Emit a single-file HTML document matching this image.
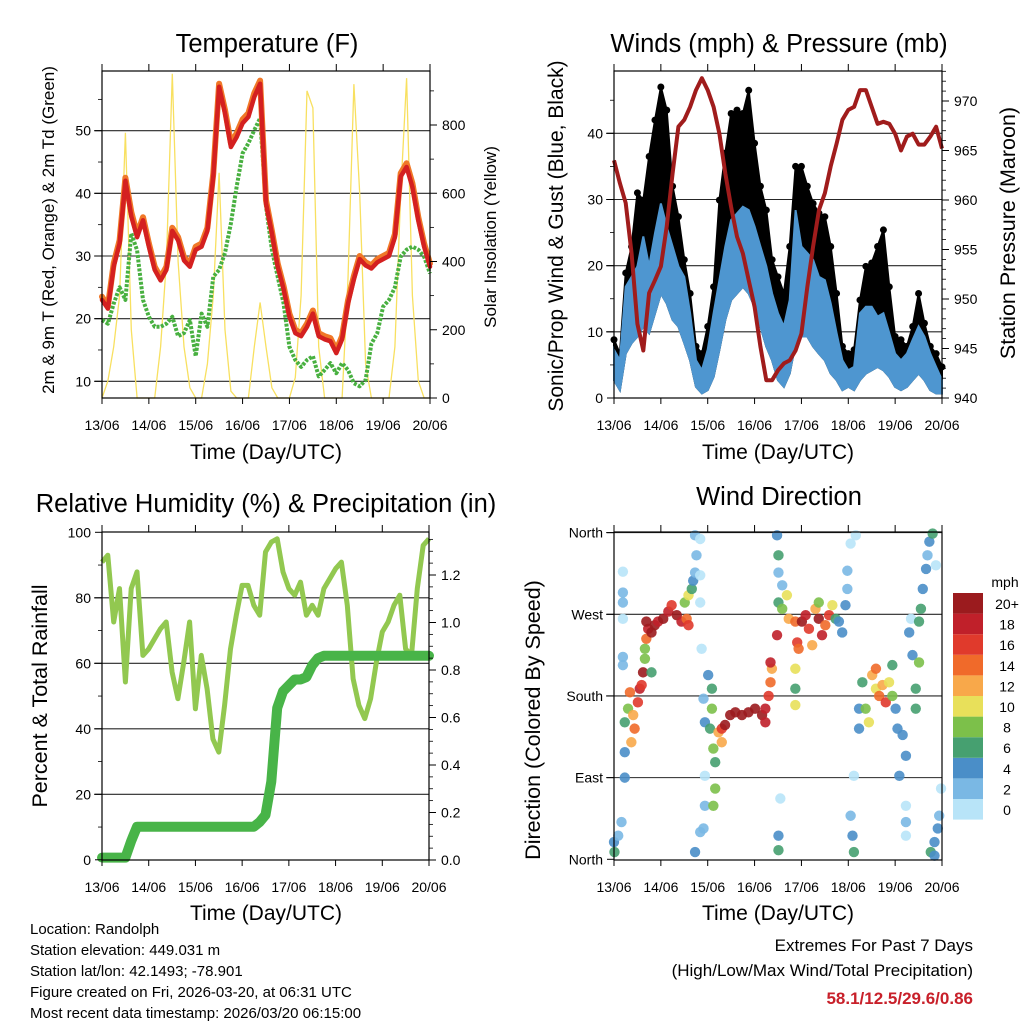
<!DOCTYPE html>
<html><head><meta charset="utf-8"><style>
html,body{margin:0;padding:0;background:#fff;}
svg{display:block;font-family:"Liberation Sans",Arial,sans-serif;}
</style></head><body>
<svg id="chart" width="1024" height="1024" viewBox="0 0 1024 1024">
<g font-size="25.5" text-anchor="middle" fill="#000">
<text x="267" y="52">Temperature (F)</text>
<text x="779" y="52">Winds (mph) &amp; Pressure (mb)</text>
<text x="266" y="512">Relative Humidity (%) &amp; Precipitation (in)</text>
<text x="779" y="505">Wind Direction</text>
</g>
<g font-size="21" text-anchor="middle" fill="#000">
<text x="266" y="459">Time (Day/UTC)</text>
<text x="778" y="459">Time (Day/UTC)</text>
<text x="266" y="920">Time (Day/UTC)</text>
<text x="778" y="920">Time (Day/UTC)</text>
</g>
<text transform="translate(54,230) rotate(-90)" font-size="17" text-anchor="middle">2m &amp; 9m T (Red, Orange) &amp; 2m Td (Green)</text>
<text transform="translate(496,237) rotate(-90)" font-size="17" text-anchor="middle">Solar Insolation (Yellow)</text>
<text transform="translate(563,236) rotate(-90)" font-size="21" text-anchor="middle">Sonic/Prop Wind &amp; Gust (Blue, Black)</text>
<text transform="translate(1015,233) rotate(-90)" font-size="21.5" text-anchor="middle">Station Pressure (Maroon)</text>
<text transform="translate(47,696) rotate(-90)" font-size="21.5" text-anchor="middle">Percent &amp; Total Rainfall</text>
<text transform="translate(540,720) rotate(-90)" font-size="21.5" text-anchor="middle">Direction (Colored By Speed)</text>
<g font-size="15" fill="#000">
<text x="30" y="934">Location: Randolph</text>
<text x="30" y="955">Station elevation: 449.031 m</text>
<text x="30" y="976">Station lat/lon: 42.1493; -78.901</text>
<text x="30" y="997">Figure created on Fri, 2026-03-20, at 06:31 UTC</text>
<text x="30" y="1018">Most recent data timestamp: 2026/03/20 06:15:00</text>
</g>
<g font-size="17" text-anchor="end">
<text x="973" y="951">Extremes For Past 7 Days</text>
<text x="973" y="976">(High/Low/Max Wind/Total Precipitation)</text>
<text x="973" y="1004" font-weight="bold" fill="#c8202a">58.1/12.5/29.6/0.86</text>
</g>
<text x="1005" y="587" font-size="14" text-anchor="middle">mph</text>
</svg>
<script>
const dayLabels=['13/06','14/06','15/06','16/06','17/06','18/06','19/06','20/06'];
const hours=[0,3,6,9,12,15,18,21,24,27,30,33,36,39,42,45,48,51,54,57,60,63,66,69,72,75,78,81,84,87,90,93,96,99,102,105,108,111,114,117,120,123,126,129,132,135,138,141,144,147,150,153,156,159,162,165,168];
const temp2m=[23,21.6,28.3,32,42,36.3,33,35.7,31.5,27.8,26.1,27.8,34,32.5,29.3,28.3,31,31.5,34,42.7,57,52.8,47.4,49,51.2,52.2,55.4,57.5,38.4,33.6,28.3,24.7,20.3,17.7,17.2,18.7,20.8,17.2,16.7,16.4,14.5,16.7,22.4,26.3,29.5,28.5,28,29,29.5,30,33,42.7,44.2,41,35.7,31.5,28.3];
const temp9m=[23.5,22,28.8,32.5,42.5,37,33.5,36.2,32,28.3,26.6,28.3,34.5,33,29.8,28.8,31.5,32,34.5,43.2,57.5,53.3,48,49.6,51.8,52.8,56,58,38.9,34,28.8,25.2,20.8,18.2,17.7,19.2,21.3,17.7,17.2,16.9,15,17.2,22.9,26.8,30,29,28.5,29.5,30,30.5,33.5,43.2,44.8,41.6,36.2,32,28.8];
const dewpt=[19.8,19.2,22.4,25,23,33.6,30.9,23,20.3,18.7,18.7,19.2,20.3,17.2,17.7,19.8,14,20.8,18.7,26.7,27.8,30.5,35.2,41.1,46.4,48,50.1,52,37.9,31,26.7,22.4,15.5,13.4,12.3,13.4,14,10.8,11.8,12.9,11.3,12.9,11.8,9.7,9.2,10.2,16,17.7,21.9,23,25,29.9,31,31.5,31,29.9,27.2];
const solar=[0,50,150,300,777,200,0,0,0,0,150,400,950,400,150,30,0,0,100,300,660,200,20,0,0,0,150,280,150,30,0,0,0,60,300,900,850,150,0,0,0,0,350,920,600,100,0,0,0,0,150,600,937,300,50,0,0];
const gust=[8.8,6.7,18.9,22.9,31.0,29.9,36.5,42.0,47.0,43.5,32.0,27.4,20.9,15.8,7.8,6.7,10.8,16.8,29.9,37.0,43.0,43.5,43.0,46.5,38.5,32.0,28.4,20.9,18.3,15.8,22.9,35.0,35.0,32.0,29.4,27.9,27.4,22.9,15.8,7.8,6.7,7.3,14.8,19.9,20.4,22.9,25.4,16.8,9.3,8.8,7.8,10.8,15.8,11.3,7.8,6.7,4.7];
const windHi=[7.3,5.7,16.8,18.3,19.9,24.4,19.9,24.9,29.4,25.9,22.9,19.9,18.3,12.8,5.7,4.2,7.3,12.8,17.8,22.9,26.9,27.9,28.9,28.4,25.9,22.9,19.9,15.8,12.8,10.8,14.8,28.4,22.9,21.9,20.9,18.3,17.8,14.3,9.8,5.7,4.2,4.7,12.8,13.8,13.8,12.3,12.8,9.8,6.7,5.7,6.7,8.8,10.8,9.3,6.7,4.7,2.7];
const windLo=[2.7,1.2,6.7,8.3,9.3,10.8,9.8,12.8,15.8,14.3,11.8,10.8,8.3,5.7,1.7,0.7,1.2,3.2,7.3,11.8,14.8,15.8,16.8,15.8,13.8,10.8,7.8,5.7,2.7,1.7,3.7,8.3,9.3,9.3,7.8,6.7,5.7,3.7,2.7,1.2,1.7,1.2,2.7,3.7,4.2,4.7,4.2,3.2,1.7,1.2,1.7,2.7,3.7,2.7,1.2,0.7,0.7];
const pressure=[964.0,961.7,959.7,954.6,947.5,944.8,950.6,951.9,953.3,957.3,962.7,967.4,968.1,969.4,971.1,972.3,971.1,969.4,966.7,962.7,959.3,956.3,954.6,951.9,949.2,945.2,941.8,941.8,942.8,943.5,943.8,944.8,946.5,951.2,955.3,959,960.7,963.4,965.7,968.1,969.1,969.4,971.1,971.1,969.4,967.7,967.9,967.7,966.7,965,966.4,966.7,965.6,965.6,966.4,967.4,965.2];
const rh=[90.9,93,72.6,82.8,54.3,82.8,87.9,62.4,64.4,67.5,70.5,72.6,57.3,49.2,60.4,72.6,46.1,62.4,52.2,36.9,32.9,47.2,64.4,74.7,83.8,83.8,77.7,74.7,94,97,98,87.9,82.8,80.8,84.8,74.7,77.7,74.7,82.8,85.8,88.9,90.9,77.7,55.3,47.2,43.1,49.2,60.4,69.6,72.6,77.7,80.8,64.4,62.4,82.8,96,98];
const precip=[0.01,0.01,0.01,0.01,0.01,0.08,0.14,0.14,0.14,0.14,0.14,0.14,0.14,0.14,0.14,0.14,0.14,0.14,0.14,0.14,0.14,0.14,0.14,0.14,0.14,0.14,0.14,0.16,0.19,0.33,0.64,0.71,0.735,0.76,0.76,0.77,0.82,0.85,0.86,0.86,0.86,0.86,0.86,0.86,0.86,0.86,0.86,0.86,0.86,0.86,0.86,0.86,0.86,0.86,0.86,0.86,0.86];
const dirT=[0,0.01,0.09,0.16,0.19,0.19,0.19,0.19,0.19,0.19,0.23,0.23,0.23,0.3,0.34,0.44,0.51,0.55,0.62,0.59,0.41,0.37,0.66,0.69,0.73,0.69,0.8,0.87,0.94,1.05,1.16,1.23,1.34,1.44,1.55,1.59,1.51,1.59,1.66,1.69,1.73,1.76,1.73,1.84,1.84,1.84,1.87,0.8,0.66,
1.73,1.84,1.91,1.94,1.94,2.01,2.09,1.91,1.94,2.05,2.09,2.12,2.16,2.16,2.12,2.23,2.3,2.37,2.48,2.59,2.73,2.87,3.01,3.16,3.23,3.3,3.34,3.37,3.34,3.23,2.3,
3.48,3.51,3.51,3.59,3.51,3.59,3.69,3.73,3.48,3.87,3.91,3.94,3.87,3.87,3.87,4.01,4.09,4.16,4.23,4.3,4.37,4.37,4.44,4.51,4.59,4.66,4.73,4.8,4.87,4.94,4.98,4.98,5.05,5.16,3.51,3.51,3.55,
5.05,5.09,5.12,5.12,5.23,5.23,5.3,5.37,5.44,5.51,5.59,5.59,5.66,5.73,5.8,5.87,5.94,6.01,6.05,6.16,6.23,6.09,5.94,6.23,6.23,6.23,
6.3,6.34,6.37,6.44,6.44,6.51,6.51,6.55,6.59,6.66,6.69,6.73,6.8,6.87,6.76,6.84,6.91,6.94,6.98,6.84];
const dirDeg=[19,8,26,41,317,294,283,265,223,214,118,90,151,166,184,144,173,188,206,192,159,129,232,243,254,262,250,258,262,265,273,280,269,262,265,258,283,291,298,307,316,335,357,353,313,283,232,206,221,
8,30,34,59,92,203,188,177,151,144,166,122,107,78,59,140,144,148,159,162,159,162,166,159,166,180,195,210,217,151,129,
357,316,335,302,283,276,291,265,247,262,239,232,210,188,170,262,269,254,236,276,283,265,247,258,269,280,265,262,250,280,298,318,348,357,26,10,67,
48,26,8,92,166,144,195,166,151,203,188,210,180,192,173,195,180,166,144,137,114,92,214,59,26,41,
250,265,225,188,166,217,262,276,298,320,335,350,359,324,8,19,34,48,78,4];
const dirSpd=[4,6,3,2,1,2,3,1,2,3,4,4,6,9,14,14,16,18,20,16,12,12,8,14,18,20,20,20,18,20,18,16,20,18,14,16,8,10,6,4,2,3,3,1,1,1,1,6,8,
4,3,2,2,1,4,6,2,4,6,8,8,6,8,8,12,16,20,20,20,20,20,20,20,18,16,14,12,18,18,12,
4,2,6,3,6,8,10,12,18,14,16,14,10,6,10,20,18,16,12,12,8,20,18,14,16,10,6,4,4,4,2,2,1,1,4,6,1,
2,4,6,1,4,4,6,8,10,12,10,14,14,12,16,10,8,4,4,4,4,4,6,1,1,2,
4,1,4,6,6,8,6,6,4,4,2,4,6,1,6,4,4,2,1,4];
const speedBins=['0','2','4','6','8','10','12','14','16','18','20+'];
const speedColors=['#b8e4f8','#7ab8e4','#4a8ec8','#46a070','#7cc04a','#e8e05a','#f8a84a','#f06a2a','#e03a2c','#c0202a','#9b1b1e'];

const NS='http://www.w3.org/2000/svg';
const svg=document.getElementById('chart');
function mk(tag,attrs,parent){const e=document.createElementNS(NS,tag);for(const k in attrs)e.setAttribute(k,attrs[k]);(parent||svg).appendChild(e);return e;}

function panel(name,x0,y0,x1,y1){
  const g=mk('g',{});
  
  
  return {g,x0,y0,x1,y1,x:function(h){return x0+(x1-x0)*h/168;}};
}
function frame(p){
  const r=mk('rect',{x:p.x0,y:p.y0,width:p.x1-p.x0,height:p.y1-p.y0,fill:'none',stroke:'#000','stroke-width':1.2},p.g);
  
  
  for(let d=0;d<8;d++){
    const X=p.x0+(p.x1-p.x0)*d/7;
    const t1=mk('line',{x1:X,x2:X,y1:p.y0,y2:p.y0-7,stroke:'#000','stroke-width':1},p.g);
    
    
    const t2=mk('line',{x1:X,x2:X,y1:p.y1,y2:p.y1+6,stroke:'#000','stroke-width':1},p.g);
    
    
    const lb=mk('text',{x:X,y:p.y1+32,'font-size':14,'text-anchor':'middle'},p.g);
    lb.textContent=dayLabels[d];
    
    
  }
}
function grid(p,ys){
  ys.forEach(Y=>{
    const l=mk('line',{x1:p.x0-8,x2:p.x1,y1:Y,y2:Y,stroke:'#000','stroke-width':1.1,'stroke-opacity':0.85},p.g);
    
    
  });
}
function ticks(p,side,vals,scale,labels,minor){
  vals.forEach((v,i)=>{
    const Y=scale(v);
    const X=side==='left'?p.x0:p.x1;
    const dx=side==='left'?-7:7;
    const t=mk('line',{x1:X,x2:X+dx,y1:Y,y2:Y,stroke:'#000','stroke-width':1},p.g);
    
    
    const lb=mk('text',{x:side==='left'?X-11:X+12,y:Y+5,'font-size':14,'text-anchor':side==='left'?'end':'start'},p.g);
    lb.textContent=labels[i];
    
    
  });
  (minor||[]).forEach(v=>{
    const Y=scale(v);
    if(Y<p.y0-0.5||Y>p.y1+0.5)return;
    const X=side==='left'?p.x0:p.x1;
    const dx=side==='left'?-4:4;
    const t=mk('line',{x1:X,x2:X+dx,y1:Y,y2:Y,stroke:'#000','stroke-width':0.8},p.g);
    
    
  });
}
function pathOf(p,vals,sy){return vals.map((v,i)=>(i?'L':'M')+p.x(hours[i]).toFixed(1)+','+sy(v).toFixed(1)).join(' ');}
function bandOf(p,lo,hi,sy){
  let d=hi.map((v,i)=>(i?'L':'M')+p.x(hours[i]).toFixed(1)+','+sy(v).toFixed(1)).join(' ');
  for(let i=lo.length-1;i>=0;i--)d+=' L'+p.x(hours[i]).toFixed(1)+','+sy(lo[i]).toFixed(1);
  return d+' Z';
}

/* Panel 1 */
const p1=panel('temperature-panel',102,71,430,398);
const sT=v=>381.3-(v-10)*6.265;
const sS=v=>398-v*0.34125;
grid(p1,[10,20,30,40,50].map(sT));
const solarLine=mk('path',{d:pathOf(p1,solar,sS),fill:'none',stroke:'#f8e060','stroke-width':1.3},p1.g);


const tdLine=mk('path',{d:pathOf(p1,dewpt,sT),fill:'none',stroke:'#48b040','stroke-width':4,'stroke-dasharray':'3 1.5','stroke-linejoin':'round'},p1.g);


const t9Line=mk('path',{d:pathOf(p1,temp9m,sT),fill:'none',stroke:'#f07828','stroke-width':6,'stroke-linejoin':'round','stroke-linecap':'round'},p1.g);


const t2Line=mk('path',{d:pathOf(p1,temp2m,sT),fill:'none',stroke:'#d42020','stroke-width':4.5,'stroke-linejoin':'round','stroke-linecap':'round'},p1.g);


frame(p1);
ticks(p1,'left',[10,20,30,40,50],sT,['10','20','30','40','50'],[15,25,35,45,55]);
ticks(p1,'right',[0,200,400,600,800],sS,['0','200','400','600','800'],[100,300,500,700,900]);

/* Panel 2 */
const p2=panel('winds-panel',614,71,942,398);
const sW=v=>398-v*6.617;
const sP=v=>398-(v-940)*9.9;
grid(p2,[10,20,30,40].map(sW));
const gustBand=mk('path',{d:bandOf(p2,windLo,gust,sW),fill:'#000','stroke':'#000','stroke-width':2},p2.g);


gust.forEach((v,i)=>{
  const c=mk('circle',{cx:p2.x(hours[i]),cy:sW(v),r:3.5,fill:'#000'},p2.g);
  
  
});
const windBand=mk('path',{d:bandOf(p2,windLo,windHi,sW),fill:'#4e96d0',stroke:'#4e96d0','stroke-width':2},p2.g);


const presLine=mk('path',{d:pathOf(p2,pressure,sP),fill:'none',stroke:'#a01c1c','stroke-width':4,'stroke-linejoin':'round'},p2.g);


frame(p2);
ticks(p2,'left',[0,10,20,30,40],sW,['0','10','20','30','40'],[5,15,25,35,45]);
ticks(p2,'right',[940,945,950,955,960,965,970],sP,['940','945','950','955','960','965','970'],[941,942,943,944,946,947,948,949,951,952,953,954,956,957,958,959,961,962,963,964,966,967,968,969,971,972,973]);

/* Panel 3 */
const p3=panel('humidity-panel',102,532,429,860);
const sR=v=>859.8-v*3.275;
const sPr=v=>860-v*237.5;
grid(p3,[20,40,60,80].map(sR));
const rhLine=mk('path',{d:pathOf(p3,rh,sR),fill:'none',stroke:'#92c850','stroke-width':5,'stroke-linejoin':'round'},p3.g);


const prLine=mk('path',{d:pathOf(p3,precip,sPr),fill:'none',stroke:'#48b448','stroke-width':10,'stroke-linejoin':'round','stroke-linecap':'round'},p3.g);


frame(p3);
ticks(p3,'left',[0,20,40,60,80,100],sR,['0','20','40','60','80','100'],[10,30,50,70,90]);
ticks(p3,'right',[0,0.2,0.4,0.6,0.8,1.0,1.2],sPr,['0.0','0.2','0.4','0.6','0.8','1.0','1.2'],[0.05,0.1,0.15,0.25,0.3,0.35,0.45,0.5,0.55,0.65,0.7,0.75,0.85,0.9,0.95,1.05,1.1,1.15,1.25,1.3,1.35]);

/* Panel 4 */
const p4=panel('wind-direction-panel',614,532,942,860);
const sD=v=>859.3-v*0.9074;
grid(p4,[90,180,270,360].map(sD));
dirT.forEach((t,i)=>{
  const bin=Math.min(10,Math.floor(dirSpd[i]/2));
  const c=mk('circle',{cx:p4.x(t*24),cy:sD(dirDeg[i]),r:5.2,fill:speedColors[bin],'fill-opacity':0.9},p4.g);
  
  
});
frame(p4);
ticks(p4,'left',[0,90,180,270,360],sD,['North','East','South','West','North'],[]);
const cb=mk('g',{});


for(let i=0;i<11;i++){
  const top=593+(10-i)*20.6;
  const r=mk('rect',{x:953,y:top,width:30,height:20.6,fill:speedColors[i]},cb);
  
  
  const lb=mk('text',{x:1007,y:top+16,'font-size':14,'text-anchor':'middle'},cb);
  lb.textContent=speedBins[i];
  
  
}
</script>
</body></html>
